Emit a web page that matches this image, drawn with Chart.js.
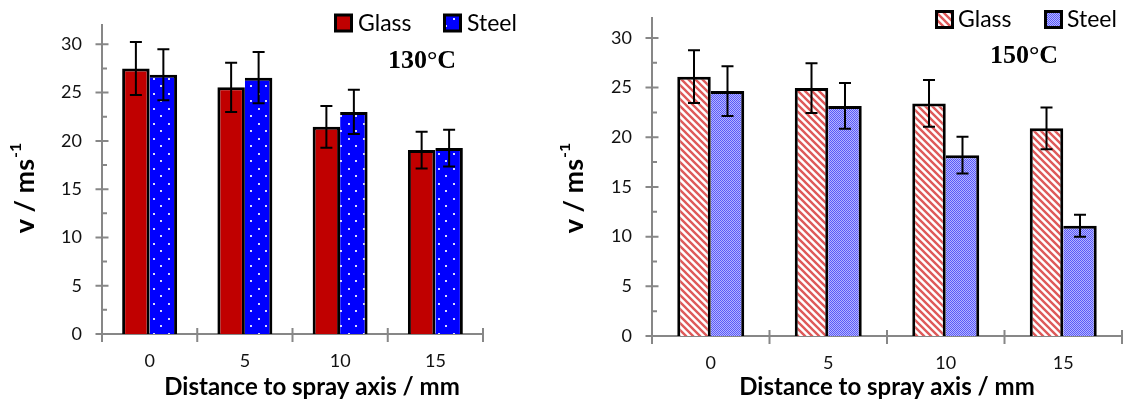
<!DOCTYPE html>
<html><head><meta charset="utf-8">
<script src="https://cdn.jsdelivr.net/npm/chart.js@4.4.0/dist/chart.umd.min.js"></script>
<style>
html,body{margin:0;padding:0;background:#fff;}
#wrap{position:relative;width:1126px;height:401px;overflow:hidden;}
.c{position:absolute;top:0;height:401px;}
#c1{left:0;width:560px;} #c2{left:560px;width:566px;}
</style></head><body>
<div id="wrap"><div class="c" id="c1"><canvas id="left"></canvas></div><div class="c" id="c2"><canvas id="right"></canvas></div></div>
<script>
// ---- data ----
const categories = ['0', '5', '10', '15'];
const seriesNames = ['Glass', 'Steel'];
const glass130 = [27.5, 25.55, 21.45, 19.05];
const steel130 = [26.85, 26.55, 23.0, 19.25];
const glass130Err = [2.75, 2.55, 2.15, 1.9];
const steel130Err = [2.65, 2.65, 2.3, 1.9];
const glass150 = [26.1, 24.95, 23.4, 20.9];
const steel150 = [24.65, 23.15, 18.2, 11.1];
const glass150Err = [2.65, 2.5, 2.35, 2.1];
const steel150Err = [2.5, 2.3, 1.85, 1.1];
const temperatureLabels = ['130°C', '150°C'];
const xTitle = 'Distance to spray axis / mm';
const yTitleMain = 'v / ms';
const yTitleSup = '-1';

// ---- styles ----
const AXIS = '#878787';
Chart.defaults.font.family = 'Lato, "DejaVu Sans", sans-serif';
Chart.defaults.color = '#111';

function makePattern(w, h, draw) {
  const c = document.createElement('canvas'); c.width = w; c.height = h;
  const g = c.getContext('2d'); draw(g, w, h);
  return g.createPattern(c, 'repeat');
}
const solidRed = '#C00000';
const blueDots = makePattern(15, 15, g => {
  g.fillStyle = '#0000FF'; g.fillRect(0, 0, 15, 15);
  g.fillStyle = '#D8D8FF'; g.fillRect(3, 3, 2, 2); g.fillRect(10, 10, 2, 2);
});
const redHatch = makePattern(7, 7, g => {
  g.fillStyle = '#fff'; g.fillRect(0, 0, 7, 7);
  g.strokeStyle = '#DE5A5A'; g.lineWidth = 2.4; g.beginPath();
  g.moveTo(-2, -2); g.lineTo(9, 9);
  g.moveTo(-2, 5); g.lineTo(2, 9);
  g.moveTo(5, -2); g.lineTo(9, 2);
  g.stroke();
});
const blueCheck = makePattern(2, 2, g => {
  g.fillStyle = '#B4B4FF'; g.fillRect(0, 0, 2, 2);
  g.fillStyle = '#5A5AF8'; g.fillRect(0, 0, 1, 1); g.fillRect(1, 1, 1, 1);
});

const errorBars = {
  id: 'errorBars',
  afterDatasetsDraw(chart) {
    const ctx = chart.ctx, y = chart.scales.y;
    ctx.save(); ctx.strokeStyle = '#000'; ctx.lineWidth = 2;
    chart.data.datasets.forEach((ds, i) => {
      chart.getDatasetMeta(i).data.forEach((bar, j) => {
        const v = ds.data[j], e = ds.errors[j], x = bar.x;
        const t = y.getPixelForValue(v + e), b = y.getPixelForValue(v - e);
        ctx.beginPath();
        ctx.moveTo(x, t); ctx.lineTo(x, b);
        ctx.moveTo(x - 6, t); ctx.lineTo(x + 6, t);
        ctx.moveTo(x - 6, b); ctx.lineTo(x + 6, b);
        ctx.stroke();
      });
    });
    ctx.restore();
  }
};

const axisTicks = {
  id: 'axisTicks',
  afterDatasetsDraw(chart) {
    const { ctx, chartArea: a, scales: { x, y } } = chart;
    ctx.save(); ctx.strokeStyle = AXIS; ctx.lineWidth = 2; ctx.beginPath();
    y.ticks.forEach(t => {
      const py = y.getPixelForValue(t.value);
      if (Math.abs(t.value % 5) < 1e-9) { ctx.moveTo(a.left - 6.5, py); ctx.lineTo(a.left + 6.5, py); }
      else { ctx.moveTo(a.left, py); ctx.lineTo(a.left + 5, py); }
    });
    const n = x.ticks.length;
    for (let i = 0; i <= n; i++) {
      const px = a.left + (a.right - a.left) * i / n;
      ctx.moveTo(px, a.bottom - 6); ctx.lineTo(px, a.bottom + 8);
    }
    ctx.stroke(); ctx.restore();
  }
};

const decor = {
  id: 'decor',
  afterDraw(chart, args, o) {
    const ctx = chart.ctx;
    ctx.save();
    // legend
    ctx.font = '23px Lato'; ctx.textBaseline = 'alphabetic'; ctx.textAlign = 'left';
    o.legend.forEach((it, i) => {
      const fill = chart.data.datasets[i].backgroundColor;
      ctx.fillStyle = fill; ctx.fillRect(it.bx, it.by, 16, 16);
      ctx.strokeStyle = '#000'; ctx.lineWidth = 3; ctx.strokeRect(it.bx, it.by, 16, 16);
      ctx.fillStyle = '#000'; ctx.fillText(chart.data.datasets[i].label, it.tx, it.ty);
    });
    // temperature
    ctx.font = 'bold 26px "Liberation Serif"'; ctx.textAlign = 'center'; ctx.fillStyle = '#000';
    ctx.fillText(o.temp.text, o.temp.x, o.temp.y);
    // x title
    ctx.font = 'bold 24px Lato'; ctx.textAlign = 'center';
    ctx.fillText(xTitle, o.xt.x, o.xt.y);
    // y title
    ctx.translate(o.yt.x, o.yt.y); ctx.rotate(-Math.PI / 2);
    ctx.font = 'bold 27px Lato'; const w1 = ctx.measureText(yTitleMain).width;
    ctx.font = 'bold 16px Lato'; const w2 = ctx.measureText(yTitleSup).width;
    const x0 = -(w1 + w2 + 1) / 2;
    ctx.textAlign = 'left';
    ctx.font = 'bold 27px Lato'; ctx.fillText(yTitleMain, x0, 7);
    ctx.font = 'bold 16px Lato'; ctx.fillText(yTitleSup, x0 + w1 + 1, -6);
    ctx.restore();
  }
};

const noPad = s => { s.paddingTop = 0; s.paddingBottom = 0; s.paddingLeft = 0; s.paddingRight = 0; };

function makeChart(id, glass, steel, gErr, sErr, gFill, sFill, pad, yW, xH, catPct, deco) {
  return new Chart(document.getElementById(id), {
    type: 'bar',
    data: {
      labels: categories,
      datasets: [
        { label: seriesNames[0], data: glass, errors: gErr, backgroundColor: gFill, borderColor: '#000',
          borderWidth: { top: 3, left: 3, right: 3, bottom: 0 }, borderSkipped: false },
        { label: seriesNames[1], data: steel, errors: sErr, backgroundColor: sFill, borderColor: '#000',
          borderWidth: { top: 3, left: 0, right: 3, bottom: 0 }, borderSkipped: false }
      ]
    },
    options: {
      responsive: true, maintainAspectRatio: false, animation: false, devicePixelRatio: 1,
      layout: { padding: pad },
      datasets: { bar: { categoryPercentage: catPct, barPercentage: 1 } },
      plugins: { legend: { display: false }, tooltip: { enabled: false }, decor: deco },
      scales: {
        x: {
          grid: { display: false, drawTicks: false },
          border: { display: true, color: AXIS, width: 2 },
          ticks: { padding: 16, font: { size: 18 }, color: '#111' },
          afterFit: s => { s.height = xH; noPad(s); }
        },
        y: {
          min: 0, max: 32,
          grid: { display: false, drawTicks: false },
          border: { display: true, color: AXIS, width: 2 },
          ticks: { stepSize: 2.5, includeBounds: false, padding: 20, font: { size: 18 }, color: '#111',
            callback: v => (Math.abs(v % 5) < 1e-9 ? String(v) : '') },
          afterFit: s => { s.width = yW; noPad(s); }
        }
      }
    },
    plugins: [axisTicks, errorBars, decor]
  });
}

makeChart('left', glass130, steel130, glass130Err, steel130Err, solidRed, blueDots,
  { left: 0, right: 77, top: 25, bottom: 0 }, 102, 67, 0.577,
  { legend: [{ bx: 335.5, by: 15, tx: 358, ty: 31 }, { bx: 444.5, by: 15, tx: 467, ty: 31 }],
    temp: { text: temperatureLabels[0], x: 422, y: 68 },
    xt: { x: 312, y: 395 }, yt: { x: 27, y: 188 } });

makeChart('right', glass150, steel150, glass150Err, steel150Err, redHatch, blueCheck,
  { left: 0, right: 4, top: 18, bottom: 0 }, 92, 65, 0.57,
  { legend: [{ bx: 376.5, by: 11.5, tx: 398, ty: 27 }, { bx: 485.5, by: 11.5, tx: 507, ty: 27 }],
    temp: { text: temperatureLabels[1], x: 464, y: 63 },
    xt: { x: 327, y: 395 }, yt: { x: 16, y: 188 } });
</script>
</body></html>
